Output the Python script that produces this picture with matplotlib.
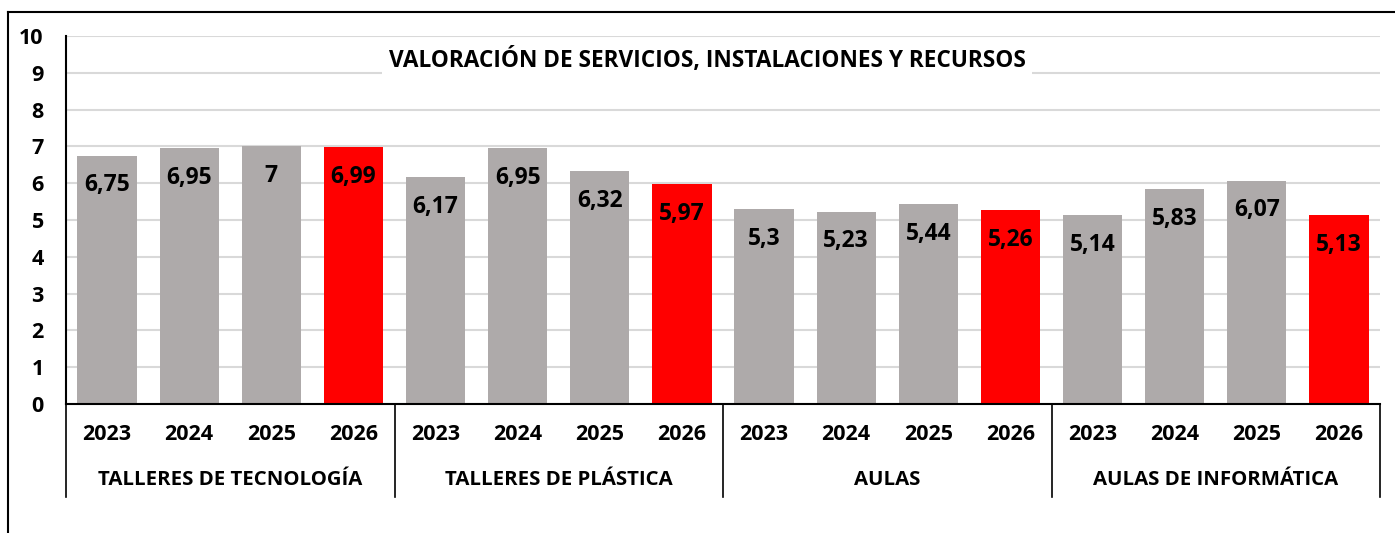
import matplotlib.pyplot as plt
from matplotlib.lines import Line2D

plt.rcParams['font.family'] = ['Open Sans', 'DejaVu Sans']
plt.rcParams['font.weight'] = 'bold'

# data
groups = ['TALLERES DE TECNOLOGÍA', 'TALLERES DE PLÁSTICA', 'AULAS', 'AULAS DE INFORMÁTICA']
years = ['2023', '2024', '2025', '2026']
tecnologia = [6.75, 6.95, 7, 6.99]
plastica = [6.17, 6.95, 6.32, 5.97]
aulas = [5.3, 5.23, 5.44, 5.26]
informatica = [5.14, 5.83, 6.07, 5.13]

title = 'VALORACIÓN DE SERVICIOS, INSTALACIONES Y RECURSOS'
gray = '#AEAAAA'
red = '#FF0000'

values = tecnologia + plastica + aulas + informatica
labels = years * len(groups)
x = list(range(len(values)))
colors = [red if y == '2026' else gray for y in labels]

W, H = 1395, 533
fig = plt.figure(figsize=(W / 100, H / 100), dpi=100)
ax = fig.add_axes([66 / W, (H - 404) / H, (1380 - 66) / W, (404 - 36) / H])

bars = ax.bar(x, values, width=0.72, color=colors, zorder=2)
ax.set_xlim(-0.5, len(values) - 0.5)
ax.set_ylim(0, 10)
ax.set_yticks(range(11))
ax.yaxis.grid(True, color='#D9D9D9', linewidth=1.5, zorder=0)
ax.set_axisbelow(True)
for s in ['top', 'right']:
    ax.spines[s].set_visible(False)
ax.spines['left'].set_linewidth(1.5)
ax.spines['bottom'].set_linewidth(1.5)
ax.tick_params(axis='y', length=0, pad=16, labelsize=15.5)
ax.set_xticks(x, [''] * len(x))
ax.tick_params(axis='x', length=0)

# value labels inside bars
for b, v in zip(bars, values):
    txt = f'{v:g}'.replace('.', ',')
    ax.annotate(txt, (b.get_x() + b.get_width() / 2, v), xytext=(0, -21.5),
                textcoords='offset points', ha='center', va='center',
                fontsize=16.5, fontweight='bold')

# year labels and group labels below axis
tr = ax.get_xaxis_transform()
for xi, lab in zip(x, labels):
    ax.text(xi, (404 - 435) / 368, lab, transform=tr, ha='center', va='center',
            fontsize=15.5, fontweight='bold')
n = len(years)
for gi, g in enumerate(groups):
    ax.text(gi * n + (n - 1) / 2, (404 - 480) / 368, g, transform=tr,
            ha='center', va='center', fontsize=14.7, fontweight='bold')
for gi in range(len(groups) + 1):
    xs = gi * n - 0.5
    ax.add_line(Line2D([xs, xs], [0, (404 - 497) / 368], transform=tr,
                       color='black', lw=1.2, clip_on=False))

# title with white box over gridlines
fig.text(707 / W, 1 - 61 / H, title, ha='center', va='center', fontsize=16.3,
         fontweight='bold',
         bbox=dict(facecolor='white', edgecolor='none', pad=5))

# chart frame (left and top edges)
fig.add_artist(Line2D([8 / W, 8 / W], [0, 1 - 12 / H], color='black', lw=1.5))
fig.add_artist(Line2D([8 / W, 1], [1 - 12 / H, 1 - 12 / H], color='black', lw=1.5))

fig.savefig('out.png', dpi=100)
